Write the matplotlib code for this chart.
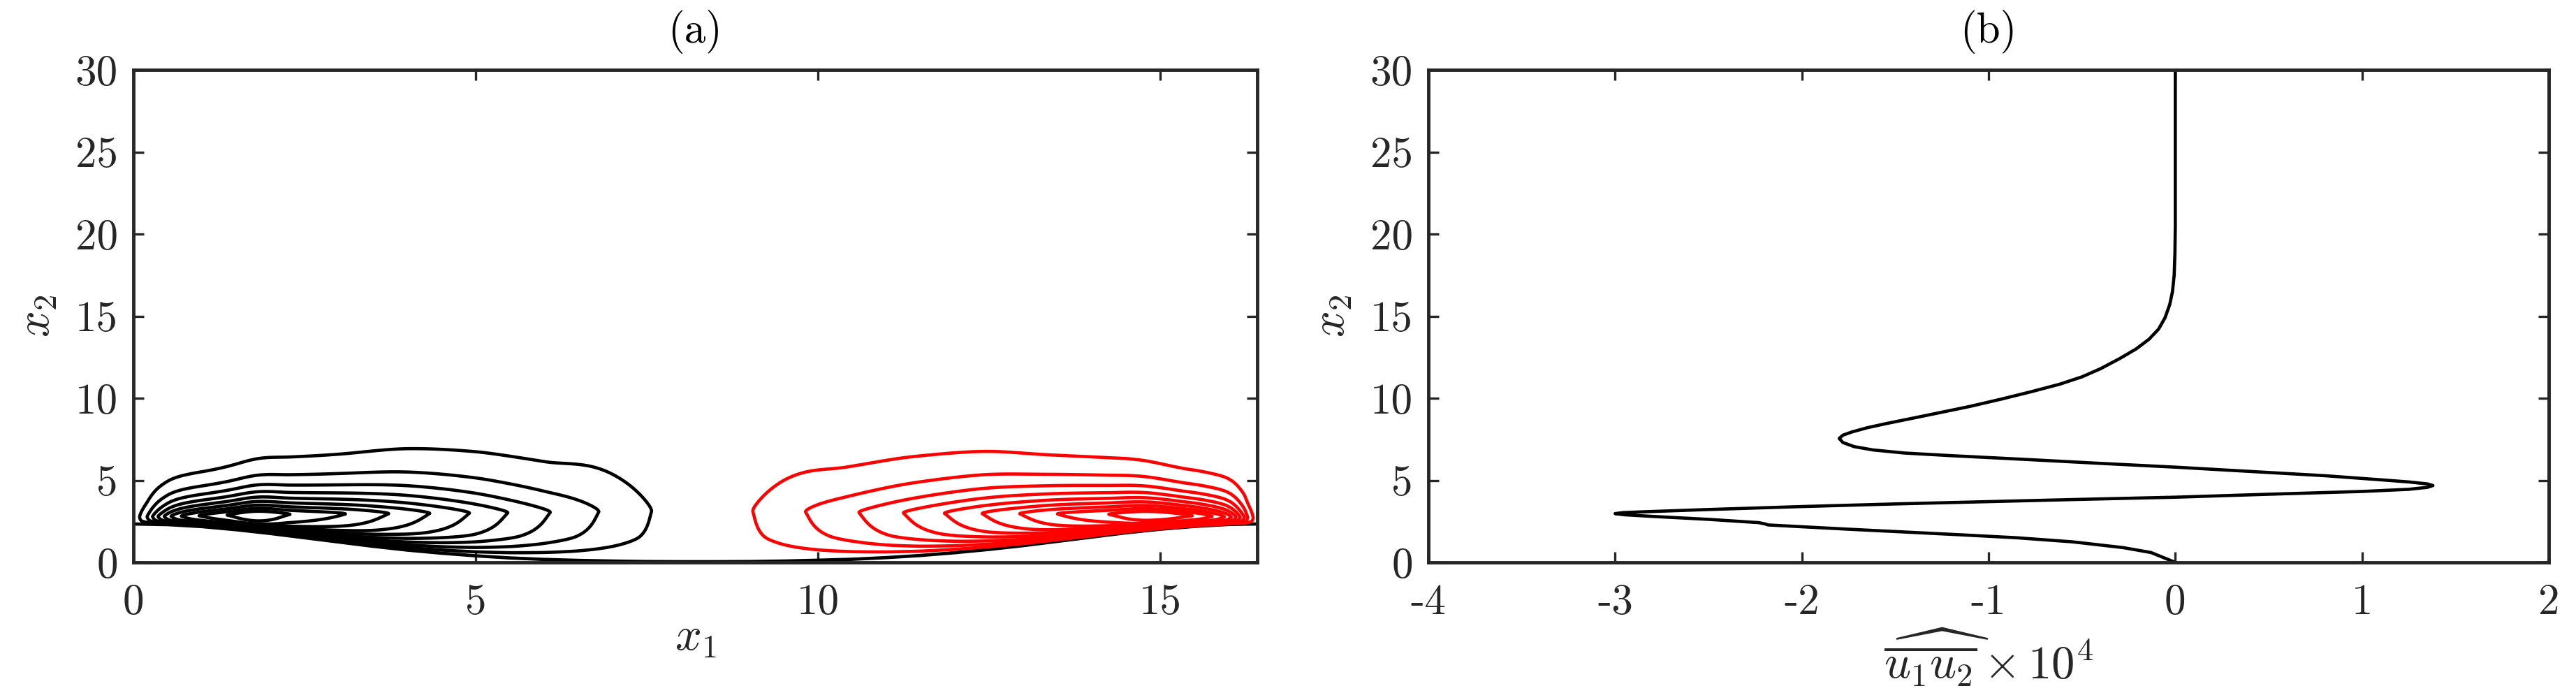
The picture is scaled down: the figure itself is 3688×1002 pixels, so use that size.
import numpy as np
import matplotlib
matplotlib.use("Agg")
import matplotlib.pyplot as plt

plt.rcParams['font.family'] = 'serif'
plt.rcParams['font.serif'] = ['cmr10']
plt.rcParams['mathtext.fontset'] = 'cm'
plt.rcParams['axes.unicode_minus'] = False

# ---------------- data: panel (a) ----------------
L_period = 16.42
wall_x = [0.0, 0.5, 1.0, 1.5, 2.0, 2.5, 3.0, 3.5, 4.0, 4.5, 5.0, 5.5, 6.0, 6.5, 7.0, 7.5, 8.0,
          8.5, 9.0, 9.5, 10.0, 10.5, 11.0, 11.5, 12.0, 12.5, 13.0, 13.5, 14.0, 14.5, 15.0, 15.5, 16.0, 16.42]
wall_y = [2.34, 2.30, 2.18, 1.99, 1.76, 1.50, 1.24, 0.98, 0.75, 0.56, 0.40, 0.27, 0.18, 0.12, 0.08, 0.05, 0.04,
          0.04, 0.05, 0.08, 0.13, 0.19, 0.29, 0.42, 0.59, 0.79, 1.02, 1.28, 1.54, 1.80, 2.02, 2.19, 2.31, 2.34]

levels = [0.1, 0.2, 0.3, 0.4, 0.5, 0.6, 0.7, 0.8, 0.9]

# contour crossings along the core line (x position -> level value)
blk_x = [0.0, 0.09, 0.20, 0.28, 0.36, 0.45, 0.55, 0.70, 0.96, 1.37, 1.80,
         2.29, 3.10, 3.73, 4.33, 4.91, 5.47, 6.09, 6.80, 7.57, 8.30]
blk_v = [0.0, 0.1, 0.2, 0.3, 0.4, 0.5, 0.6, 0.7, 0.8, 0.9, 1.0,
         0.9, 0.8, 0.7, 0.6, 0.5, 0.4, 0.3, 0.2, 0.1, 0.0]
red_x = [8.35, 9.05, 9.82, 10.60, 11.25, 11.85, 12.40, 12.95, 13.50, 14.25, 14.85,
         15.47, 15.76, 15.94, 16.04, 16.11, 16.17, 16.23, 16.28, 16.36, 16.42]
red_v = [0.0, 0.1, 0.2, 0.3, 0.4, 0.5, 0.6, 0.7, 0.8, 0.9, 1.0,
         0.9, 0.8, 0.7, 0.6, 0.5, 0.4, 0.3, 0.2, 0.1, 0.0]

# core height and upward spread versus distance from the pinch edge
blk_core_d = [0.0, 1.8, 5.0, 8.3]
blk_core_y = [2.75, 2.9, 3.0, 3.15]
red_core_d = [0.0, 1.57, 5.0, 8.07]
red_core_y = [2.70, 2.9, 3.0, 3.15]
spread_d = [0.0, 1.0, 2.0, 3.0, 4.0, 5.0, 6.0, 7.0, 8.3]
spread_w = [1.2, 1.25, 1.5, 1.7, 2.05, 2.3, 2.6, 3.8, 5.0]
# decay between core and wall (fraction of distance to wall -> factor)
low_s = [0.0, 0.3, 0.5, 0.65, 0.8, 0.9, 1.0]
low_h = [1.0, 0.92, 0.82, 0.65, 0.42, 0.22, 0.0]

# ---------------- data: panel (b) ----------------
b_u = [0.00, -0.13, -0.28, -0.55, -0.85, -1.15, -1.45, -1.75, -2.00, -2.18, -2.20, -2.23, -2.50, -2.80,
       -2.95, -3.00, -2.96, -2.85, -2.50, -2.00, -1.50, -1.00, -0.50, 0.00, 0.50, 1.00, 1.25, 1.35,
       1.38, 1.35, 1.25, 1.10, 0.80, 0.40, 0.00, -0.40, -0.80, -1.20, -1.45, -1.62, -1.72, -1.78,
       -1.80, -1.78, -1.73, -1.65, -1.55, -1.42, -1.27, -1.10, -0.93, -0.77, -0.62, -0.50, -0.40,
       -0.30, -0.21, -0.14, -0.09, -0.055, -0.03, -0.015, -0.006, -0.002, 0.0, 0.0]
b_x2 = [0.00, 0.60, 0.90, 1.25, 1.50, 1.68, 1.85, 2.02, 2.17, 2.28, 2.35, 2.42, 2.62, 2.80,
        2.90, 2.97, 3.03, 3.08, 3.22, 3.40, 3.56, 3.70, 3.84, 3.97, 4.15, 4.32, 4.45, 4.57,
        4.68, 4.78, 4.90, 5.03, 5.28, 5.54, 5.80, 6.03, 6.27, 6.50, 6.66, 6.85, 7.05, 7.30,
        7.55, 7.75, 7.95, 8.20, 8.45, 8.75, 9.10, 9.50, 9.95, 10.40, 10.85, 11.30, 11.80,
        12.40, 13.00, 13.60, 14.20, 14.90, 15.70, 16.50, 17.50, 18.80, 20.50, 30.00]


def pchip(xn, yn, xq):
    xn = np.asarray(xn, float)
    yn = np.asarray(yn, float)
    h = np.diff(xn)
    d = np.diff(yn) / h
    m = np.zeros_like(yn)
    for k in range(1, len(xn) - 1):
        if d[k - 1] * d[k] > 0:
            w1 = 2 * h[k] + h[k - 1]
            w2 = h[k] + 2 * h[k - 1]
            m[k] = (w1 + w2) / (w1 / d[k - 1] + w2 / d[k])
    m[0] = d[0]
    m[-1] = d[-1]
    xq = np.clip(xq, xn[0], xn[-1])
    i = np.clip(np.searchsorted(xn, xq) - 1, 0, len(xn) - 2)
    t = (xq - xn[i]) / h[i]
    h00 = 2 * t**3 - 3 * t**2 + 1
    h10 = t**3 - 2 * t**2 + t
    h01 = -2 * t**3 + 3 * t**2
    h11 = t**3 - t**2
    return h00 * yn[i] + h10 * h[i] * m[i] + h01 * yn[i + 1] + h11 * h[i] * m[i + 1]


xg = np.linspace(0, L_period, 1800)
yg = np.linspace(0, 14, 1100)
X, Y = np.meshgrid(xg, yg)
Hw = np.interp(X, wall_x, wall_y)


def vertical_factor(d, core_d, core_y):
    yc = pchip(core_d, core_y, d)
    w = pchip(spread_d, spread_w, d)
    s_up = (Y - yc) / w
    eps = 0.05
    up = np.exp(-(np.sqrt(s_up**2 + eps**2) - eps))
    s_lo = (yc - Y) / np.maximum(yc - Hw, 1e-3)
    lo = pchip(low_s, low_h, np.clip(s_lo, 0, 1))
    lo[s_lo >= 1] = 0.0
    return np.where(Y >= yc, up, lo)


Gb = pchip(blk_x, blk_v, X)
Gb[X > blk_x[-1]] = 0.0
Gr = pchip(red_x, red_v, X)
Gr[X < red_x[0]] = 0.0
F = -Gb * vertical_factor(X, blk_core_d, blk_core_y) + \
    Gr * vertical_factor(L_period - X, red_core_d, red_core_y)
F[Y < Hw] = 0.0

# ---------------- figure ----------------
W, Hpx = 3688, 1002
fig = plt.figure(figsize=(W / 100, Hpx / 100), dpi=100)
ax1 = fig.add_axes([191 / W, 197 / Hpx, 1609 / W, 705 / Hpx])
ax2 = fig.add_axes([2045 / W, 197 / Hpx, 1604 / W, 705 / Hpx])

axcol = '#262626'
tick_fs = 44
lab_fs = 48
lw = 3.3

ax1.plot(wall_x, wall_y, color='k', lw=3.4, zorder=2)
ax1.contour(X, Y, F, levels=[-v for v in levels[::-1]], colors='k',
            linestyles='solid', linewidths=lw, zorder=3)
ax1.contour(X, Y, F, levels=levels, colors='#ff0000',
            linestyles='solid', linewidths=lw, zorder=3)
ax1.set_xlim(0, L_period)
ax1.set_ylim(0, 30)
ax1.set_xticks([0, 5, 10, 15])
ax1.set_xticklabels(['0', '5', '10', '15'])
ax1.set_title('(a)', fontsize=tick_fs, pad=28)
ax1.set_xlabel(r'$x_1$', fontsize=lab_fs)
ax1.set_ylabel(r'$x_2$', fontsize=lab_fs)

ax2.plot(b_u, b_x2, color='k', lw=lw)
ax2.set_xlim(-4, 2)
ax2.set_ylim(0, 30)
ax2.set_xticks([-4, -3, -2, -1, 0, 1, 2])
ax2.set_xticklabels(['-4', '-3', '-2', '-1', '0', '1', '2'])
ax2.set_title('(b)', fontsize=tick_fs, pad=28)
ax2.set_xlabel(r'$\widehat{\overline{u_1u_2}}\times 10^4$', fontsize=lab_fs)
ax2.set_ylabel(r'$x_2$', fontsize=lab_fs)

for ax in (ax1, ax2):
    ax.set_yticks([0, 5, 10, 15, 20, 25, 30])
    ax.set_yticklabels(['0', '5', '10', '15', '20', '25', '30'])
    for sp in ax.spines.values():
        sp.set_linewidth(3.5)
        sp.set_color(axcol)
    ax.tick_params(direction='in', top=True, right=True, length=11, width=2.4,
                   color=axcol, labelcolor=axcol, labelsize=tick_fs)
    ax.tick_params(axis='x', pad=22)
    ax.tick_params(axis='y', pad=16)
    ax.yaxis.label.set_verticalalignment('center')
    ax.yaxis.set_label_coords(-0.085, 0.5)
    ax.xaxis.label.set_verticalalignment('center')
    ax.xaxis.label.set_color(axcol)
    ax.yaxis.label.set_color(axcol)

ax1.xaxis.set_label_coords(0.5, -0.155)
ax2.xaxis.set_label_coords(0.5, -0.192)

fig.savefig('out.png', dpi=100)
